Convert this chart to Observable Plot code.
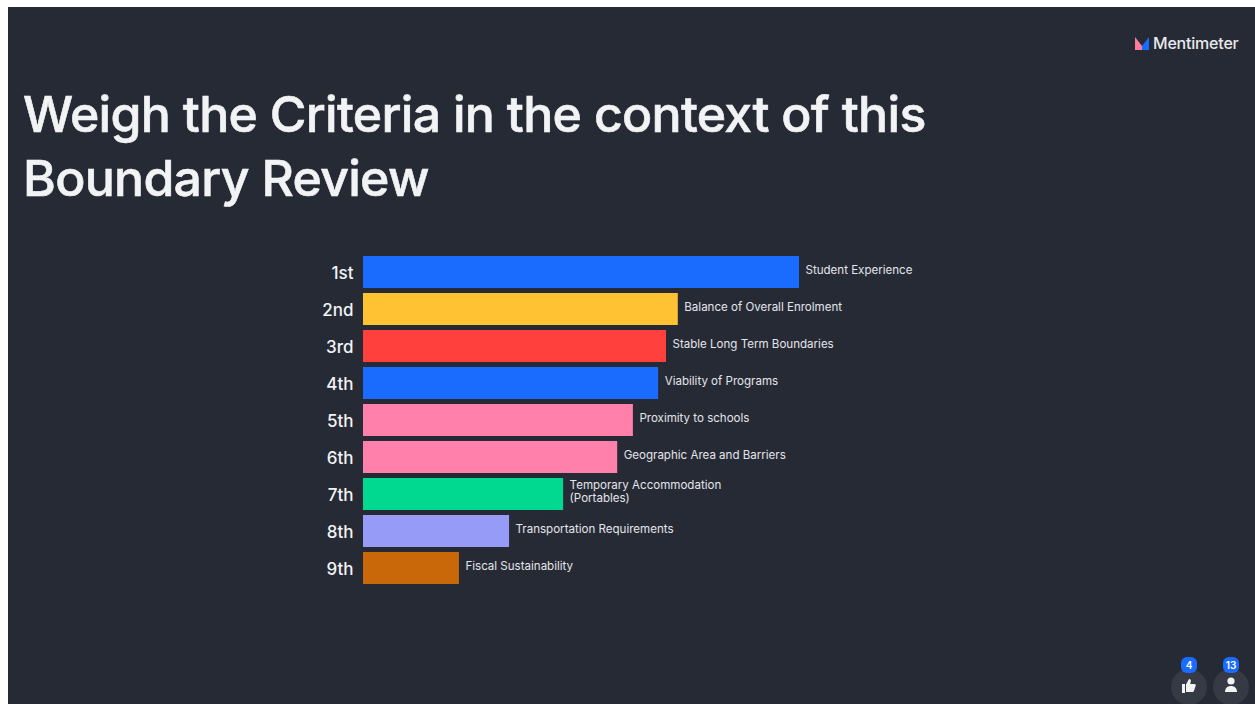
<!DOCTYPE html>
<html><head><meta charset="utf-8">
<script src="https://cdn.jsdelivr.net/npm/d3@7"></script>
<script src="https://cdn.jsdelivr.net/npm/@observablehq/plot@0.6"></script>
<style>
html,body{margin:0;padding:0;background:#fff;overflow:hidden}
#panel{position:absolute;left:8px;top:7px;width:1247px;height:697px;background:#262a35}
#title{position:absolute;left:23px;top:83px;width:960px;color:#f2f3f5;font:500 50px/63.5px Inter,sans-serif;letter-spacing:-.7px;-webkit-text-stroke:.6px #f2f3f5}
#chart{position:absolute;left:0;top:0}
#logo{position:absolute;left:1135px;top:33px;color:#e8e9ec;font:500 16px/20px Inter,sans-serif;display:flex;align-items:center;gap:4px;letter-spacing:-.2px}
.act{position:absolute;top:669px;width:36px;height:36px;border-radius:18px;background:#363a45;overflow:hidden}
.badge{position:absolute;top:657px;height:16px;border-radius:6px;background:#196cff;color:#fff;font:600 10px/16px Inter,sans-serif;text-align:center}
</style></head><body>
<div id="panel"></div>
<div id="title">Weigh the Criteria in the context of this<br>Boundary Review</div>
<div id="logo"><svg width="14" height="13" viewBox="0 0 14 13"><polygon points="0,0 7,9 7,13 0,13" fill="#ff7a9c"/><polygon points="7,9 8,13 7,13" fill="#ff403d"/><polygon points="7,9 14,0 14,13 7,13" fill="#196cff"/></svg><span>Mentimeter</span></div>
<div class="act" style="left:1171px"><svg width="36" height="36" viewBox="0 0 36 36"><path d="M11 11h3v9h-3zM15 11.5l3-5.5c1.6 0 2.2 1.2 1.8 2.6l-.6 2.4h4.3c1 0 1.5.9 1.2 1.8l-1.8 5.2c-.2.6-.7 1-1.3 1H15z" fill="#f2f3f5" transform="translate(0,4)"/></svg></div>
<div class="act" style="left:1213px"><svg width="36" height="36" viewBox="0 0 36 36"><circle cx="18" cy="12" r="3.6" fill="#f2f3f5"/><path d="M12 23c0-4 2.6-6 6-6s6 2 6 6z" fill="#f2f3f5"/></svg></div>
<div class="badge" style="left:1181px;width:16px">4</div>
<div class="badge" style="left:1223px;width:16px">13</div>
<div id="chart"></div>
<script>
const ranks = ["1st","2nd","3rd","4th","5th","6th","7th","8th","9th"];
const criteria = ["Student Experience","Balance of Overall Enrolment","Stable Long Term Boundaries","Viability of Programs","Proximity to schools","Geographic Area and Barriers","Temporary Accommodation\n(Portables)","Transportation Requirements","Fiscal Sustainability"];
const scores = [100,72.2,69.5,67.7,61.9,58.3,45.9,33.5,22.0];
const colors = ["#196cff","#ffc233","#ff403d","#196cff","#ff80ab","#ff80ab","#00d98f","#969bf7","#c96808"];
const rows = ranks.map((rank,i)=>({rank,criterion:criteria[i],score:scores[i],color:colors[i]}));
const font = "Inter, sans-serif";
const plot = Plot.plot({
  width:1255,height:704,
  style:{background:"transparent",fontFamily:font,overflow:"visible"},
  x:{domain:[0,100],range:[363,799],axis:null},
  y:{domain:ranks,range:[254,587],paddingInner:0.135,paddingOuter:0.0675,label:null},
  marks:[
    Plot.barX(rows,{x:"score",y:"rank",fill:"color"}),
    Plot.axisY({tickSize:0,tickPadding:10,fontSize:17,color:"#f2f3f5",label:null,anchor:"left",marginLeft:363,fontWeight:500,dy:1.2}),
    Plot.text(rows,{x:"score",y:"rank",text:"criterion",textAnchor:"start",dx:6,dy:-3,fontSize:11.55,fill:"#e4e5e9",lineHeight:1.12})
  ]
});
document.getElementById("chart").append(plot);
</script>
</body></html>
